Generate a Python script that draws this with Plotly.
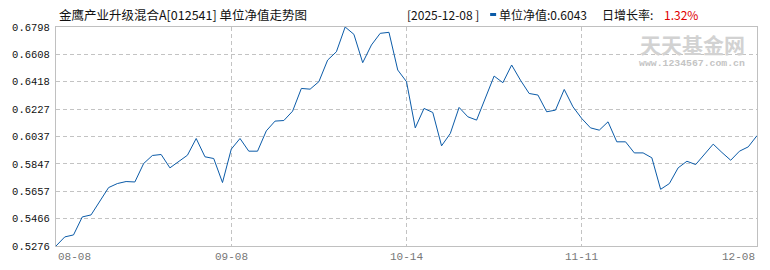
import plotly.graph_objects as go

# ---- data ----
nav = [0.5276, 0.5339, 0.5353, 0.5478, 0.5492, 0.5587, 0.5682, 0.5710, 0.5724, 0.5721,
       0.5849, 0.5905, 0.5912, 0.5819, 0.5861, 0.5907, 0.6023, 0.5896, 0.5884, 0.5717,
       0.5949, 0.6023, 0.5935, 0.5935, 0.6076, 0.6144, 0.6148, 0.6213, 0.6371, 0.6366,
       0.6418, 0.6568, 0.6626, 0.6798, 0.6747, 0.6550, 0.6673, 0.6754, 0.6761, 0.6499,
       0.6418, 0.6097, 0.6232, 0.6204, 0.5972, 0.6058, 0.6239, 0.6174, 0.6151, 0.6304,
       0.6457, 0.6411, 0.6534, 0.6429, 0.6336, 0.6325, 0.6209, 0.6220, 0.6364, 0.6243,
       0.6162, 0.6097, 0.6081, 0.6139, 0.6000, 0.6000, 0.5923, 0.5923, 0.5889, 0.5670,
       0.5710, 0.5819, 0.5865, 0.5842, 0.5912, 0.5984, 0.5926, 0.5872, 0.5935, 0.5965,
       0.6043]
x_idx = list(range(len(nav)))

y_ticks = [0.5276, 0.5466, 0.5657, 0.5847, 0.6037, 0.6227, 0.6418, 0.6608, 0.6798]
y_tick_text = ["0.5276", "0.5466", "0.5657", "0.5847", "0.6037", "0.6227", "0.6418", "0.6608", "0.6798"]
x_tick_pos = [0, 20, 40, 60, 80]
x_tick_text = ["08-08", "09-08", "10-14", "11-11", "12-08"]

title_text = "金鹰产业升级混合A[012541] 单位净值走势图"
date_text = "[2025-12-08 ]"
nav_text = "单位净值:0.6043"
rate_label = "日增长率:"
rate_text = "1.32%"

LINE = "#0B5BA8"
GRID = "#c3c3c3"
CJK = "Noto Sans CJK SC"

fig = go.Figure()
fig.add_trace(go.Scatter(x=x_idx, y=nav, mode="lines",
                         line=dict(color=LINE, width=1), hoverinfo="skip"))

fig.update_layout(
    width=770, height=270,
    margin=dict(l=54, r=12, t=27, b=24),
    paper_bgcolor="white", plot_bgcolor="white",
    showlegend=False,
    xaxis=dict(range=[0, 80], tickvals=x_tick_pos[1:-1], showticklabels=False,
               showgrid=True, gridcolor=GRID, griddash="4px,3px", gridwidth=1,
               showline=True, mirror=True, linecolor="#c0c0c0", linewidth=1,
               zeroline=False, ticks=""),
    yaxis=dict(range=[y_ticks[0], y_ticks[-1]], tickvals=y_ticks, ticktext=y_tick_text,
               showgrid=True, gridcolor=GRID, griddash="4px,3px", gridwidth=1,
               showline=True, mirror=True, linecolor="#c0c0c0", linewidth=1,
               zeroline=False, ticks="", ticklabelstandoff=3,
               tickfont=dict(family="Liberation Mono", size=10.5, color="#111")),
)


def px_to_paper(xp, yp):
    return (xp - 54) / 704, (246 - yp) / 219


# x tick labels
anchors = ["left", "center", "center", "center", "right"]
for pos, txt, anc in zip(x_tick_pos, x_tick_text, anchors):
    fig.add_annotation(x=pos, y=-0.05, xref="x", yref="paper", text=txt,
                       showarrow=False, xanchor=anc, yanchor="middle",
                       font=dict(family="Liberation Mono", size=11, color="#777"))

# title
tx, ty = px_to_paper(55, 14)
fig.add_annotation(x=tx, y=ty, xref="paper", yref="paper", text=title_text,
                   showarrow=False, xanchor="left", yanchor="middle",
                   font=dict(family=CJK, size=12.5, color="#111"))

# header pieces
for xp, txt, col in [(404, date_text, "#111"), (497, nav_text, "#111"),
                     (600, rate_label, "#111"), (663, rate_text, "#e00000")]:
    px, py = px_to_paper(xp, 14)
    fig.add_annotation(x=px, y=py, xref="paper", yref="paper", text=txt,
                       showarrow=False, xanchor="left", yanchor="middle",
                       font=dict(family=CJK, size=12, color=col))

x0, y0 = px_to_paper(490, 16)
x1, y1 = px_to_paper(496, 13)
fig.add_shape(type="rect", xref="paper", yref="paper", x0=x0, x1=x1, y0=y0, y1=y1,
              fillcolor=LINE, line=dict(width=0))

# watermark
wx, wy = px_to_paper(693, 44)
fig.add_annotation(x=wx, y=wy, xref="paper", yref="paper", text="<b>天天基金网</b>",
                   showarrow=False, xanchor="center", yanchor="middle",
                   font=dict(family=CJK, size=21, color="#d2d2d2"))
wx, wy = px_to_paper(693, 63)
fig.add_annotation(x=wx, y=wy, xref="paper", yref="paper", text="<b>www.1234567.com.cn</b>",
                   showarrow=False, xanchor="center", yanchor="middle",
                   font=dict(family="Liberation Mono", size=9.8, color="#c4c4c4"))

fig.write_html("out.html")
